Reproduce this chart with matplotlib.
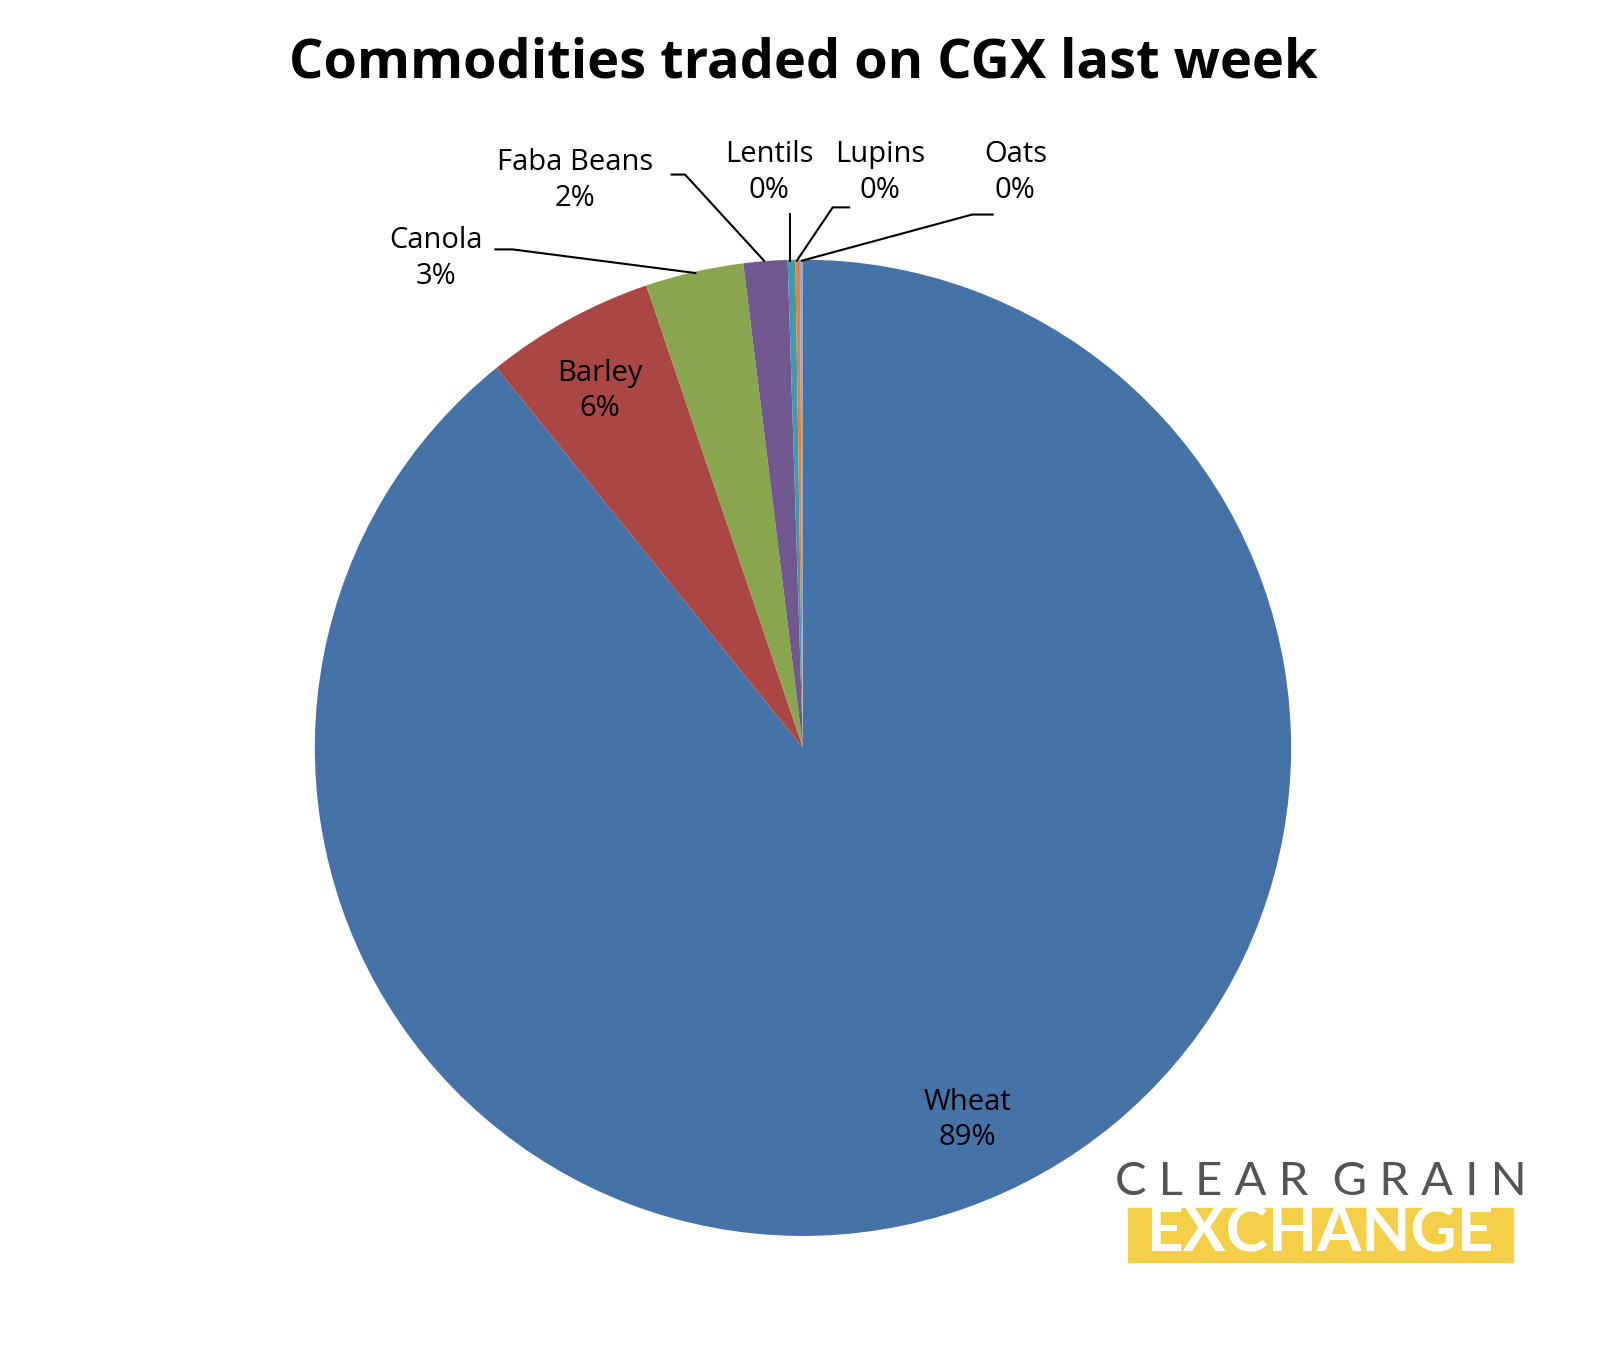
import matplotlib
matplotlib.use("Agg")
import matplotlib.pyplot as plt
from matplotlib.patches import Rectangle

categories = ["Wheat", "Barley", "Canola", "Faba Beans", "Lentils", "Lupins", "Oats"]
values = [89.2, 5.6, 3.25, 1.45, 0.25, 0.15, 0.1]
pct_labels = ["89%", "6%", "3%", "2%", "0%", "0%", "0%"]
colors = ["#4572A7", "#AA4643", "#89A54E", "#71588F", "#4198AF", "#DB843D", "#93A9CF"]

W, H = 1568, 1316
fig = plt.figure(figsize=(16.08, 13.5), dpi=100)
ax = fig.add_axes([0, 0, 1, 1])
ax.set_xlim(0, W); ax.set_ylim(0, H); ax.set_aspect("equal"); ax.axis("off")
Y = lambda y: H - y

ax.pie(values, colors=colors, startangle=90, counterclock=False,
       center=(783, Y(729)), radius=476, frame=True)
ax.set_xlim(0, W); ax.set_ylim(0, H); ax.axis("off")

fam = ["Open Sans", "DejaVu Sans"]
ax.text(783, Y(62), "Commodities traded on CGX last week", ha="center", va="center",
        fontsize=39, fontweight="bold", family=fam)

lab_pos = [(943, 1092), (585, 381), (425, 252), (561, 176), (750, 168), (858, 168), (990, 168)]
for (x, y), c, p in zip(lab_pos, categories, pct_labels):
    ax.text(x, Y(y), f"{c}\n{p}", ha="center", va="center", fontsize=21,
            family=fam, linespacing=1.3)

leaders = [
    [(483, 243), (500, 243), (678, 266)],
    [(655, 170), (668, 170), (745, 254)],
    [(770, 208), (770, 254)],
    [(828, 202), (812, 202), (777, 254)],
    [(968, 209), (948, 209), (782, 254)],
]
for pts in leaders:
    ax.plot([p[0] for p in pts], [Y(p[1]) for p in pts], color="black", lw=1.5)

ax.text(1288, Y(1152), "C L E A R   G R A I N".replace("   ", "  "), ha="center", va="center",
        fontsize=34, color="#555555", family=["Lato", "DejaVu Sans"])
ax.add_patch(Rectangle((1100, Y(1230)), 375, 52, color="#F5CF47", zorder=3))
ax.text(1288, Y(1202), "EXCHANGE", ha="center", va="center", fontsize=46,
        color="white", fontweight="bold", family=["Lato", "DejaVu Sans"], zorder=4)

fig.savefig("out.png", dpi=100)
